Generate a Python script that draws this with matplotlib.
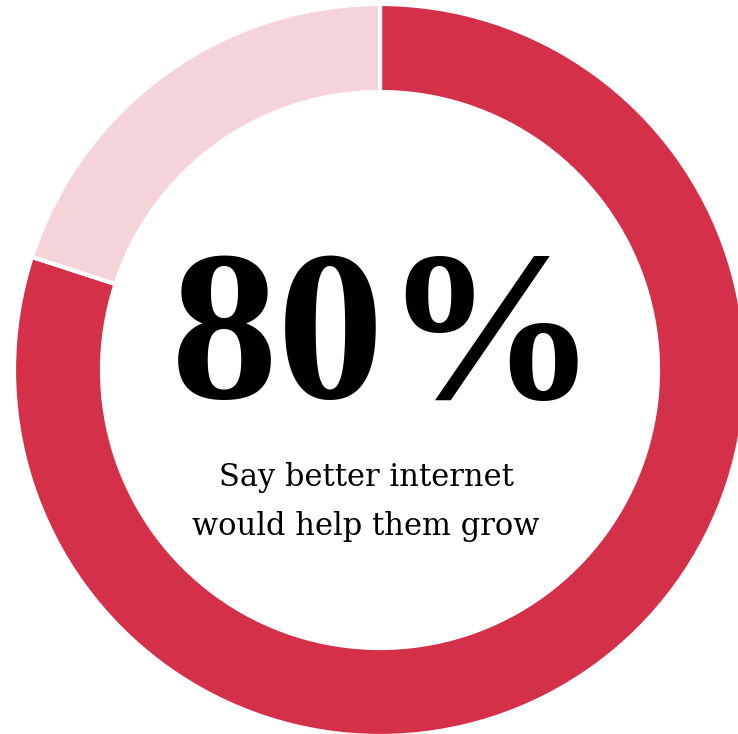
import matplotlib
matplotlib.use('Agg')
import matplotlib.pyplot as plt

labels = ['Say better internet would help them grow', 'Other']
shares = [80, 20]
colors = ['#d4304a', '#f5d4d9']
big_text = '80%'
sub_text = 'Say better internet\nwould help them grow'

fig = plt.figure(figsize=(7.38, 7.34), dpi=100)
ax = fig.add_axes([0, 0, 1, 1])

ax.pie(shares, colors=colors, startangle=90, counterclock=False,
       center=(380, 364), radius=366, frame=True,
       wedgeprops=dict(width=88, edgecolor='white', linewidth=3))
ax.set_xlim(0, 738)
ax.set_ylim(0, 734)
ax.axis('off')

ax.text(385, 336, big_text, ha='center', va='baseline',
        fontsize=154, family='Liberation Serif', fontweight='bold', color='black')
ax.text(366, 232, sub_text, ha='center', va='center',
        fontsize=22, family='DejaVu Serif', color='black', linespacing=1.75)

fig.savefig('out.png', dpi=100)
